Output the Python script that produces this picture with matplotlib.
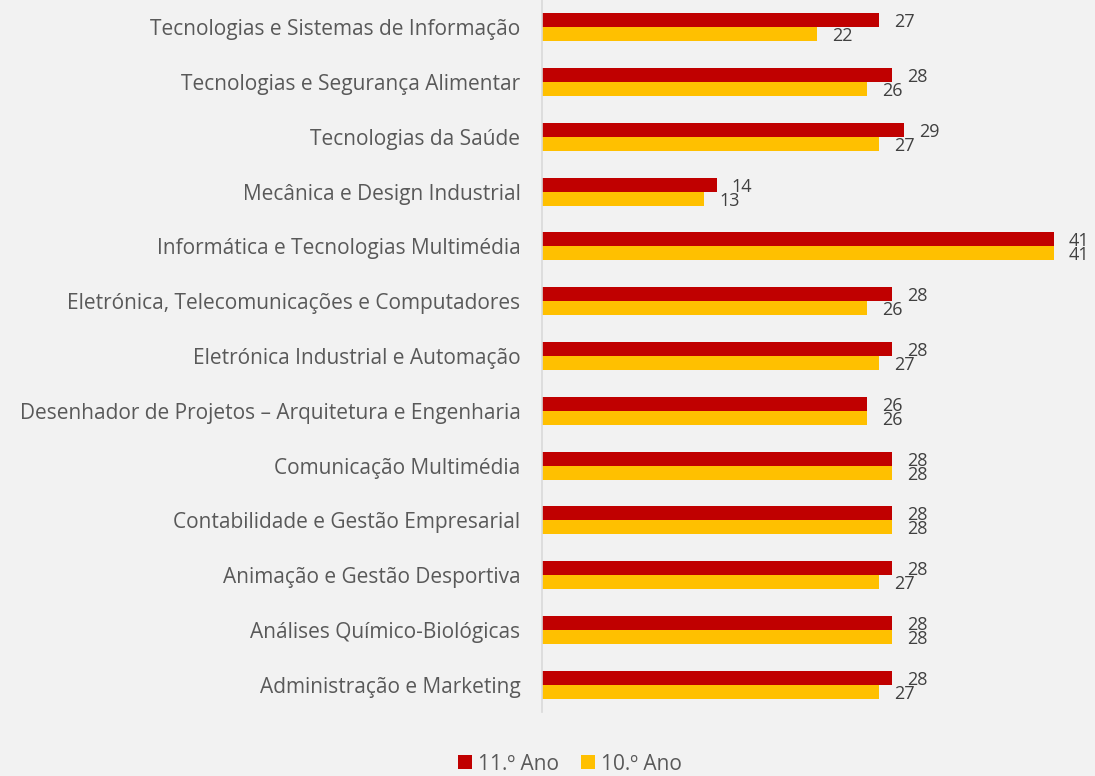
import matplotlib
matplotlib.use("Agg")
import matplotlib.pyplot as plt
from matplotlib.patches import Patch
import numpy as np

categories = [
    "Tecnologias e Sistemas de Informação",
    "Tecnologias e Segurança Alimentar",
    "Tecnologias da Saúde",
    "Mecânica e Design Industrial",
    "Informática e Tecnologias Multimédia",
    "Eletrónica, Telecomunicações e Computadores",
    "Eletrónica Industrial e Automação",
    "Desenhador de Projetos – Arquitetura e Engenharia",
    "Comunicação Multimédia",
    "Contabilidade e Gestão Empresarial",
    "Animação e Gestão Desportiva",
    "Análises Químico-Biológicas",
    "Administração e Marketing",
]
ano11 = [27, 28, 29, 14, 41, 28, 28, 26, 28, 28, 28, 28, 28]
ano10 = [22, 26, 27, 13, 41, 26, 27, 26, 28, 28, 27, 28, 27]
series_names = ["11.º Ano", "10.º Ano"]

RED = "#C00000"
YEL = "#FFC000"
BG = "#F2F2F2"
TXT = "#595959"
LBL = "#404040"

plt.rcParams['font.family'] = ['Open Sans', 'DejaVu Sans']

W, H = 1095, 776
fig = plt.figure(figsize=(W / 100, H / 100), dpi=100, facecolor=BG)
ax_left = 542 / W
ax_bottom = (H - 712) / H
ax = fig.add_axes([ax_left, ax_bottom, 1 - ax_left, 712 / H])
ax.set_facecolor(BG)

n = len(categories)
y = np.arange(n)[::-1]  # first category at top
h = 0.256
ax.barh(y + h / 2, ano11, height=h, color=RED, label=series_names[0])
ax.barh(y - h / 2, ano10, height=h, color=YEL, label=series_names[1])

px_per_unit = (1054 - 542) / 41
xmax = (W - 542) / px_per_unit
ax.set_xlim(0, xmax)
ax.set_ylim(-0.5, n - 0.5)

off = 15 / px_per_unit
for yi, v in zip(y, ano11):
    ax.text(v + off, yi + h / 2, str(v), va="center_baseline", ha="left", fontsize=13, color=LBL)
for yi, v in zip(y, ano10):
    ax.text(v + off, yi - h / 2, str(v), va="center_baseline", ha="left", fontsize=13, color=LBL)

ax.set_yticks(y)
ax.set_yticklabels(categories, fontsize=15, color=TXT)
ax.tick_params(axis="y", length=0, pad=15.5)
ax.set_xticks([])
for s in ["top", "right", "bottom"]:
    ax.spines[s].set_visible(False)
ax.spines["left"].set_color("#D9D9D9")
ax.spines["left"].set_linewidth(1.2)

handles = [Patch(facecolor=RED), Patch(facecolor=YEL)]
fig.legend(handles, series_names, loc="center", bbox_to_anchor=(570 / W, 1 - 764 / H),
           ncol=2, frameon=False, fontsize=15, labelcolor=TXT,
           handlelength=0.67, handleheight=0.67, handletextpad=0.3, columnspacing=1.05,
           borderpad=0.1)

fig.savefig("out.png", dpi=100, facecolor=BG)
